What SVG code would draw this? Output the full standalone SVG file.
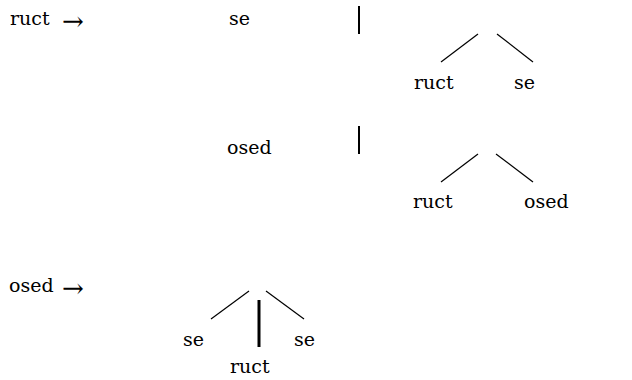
<svg xmlns="http://www.w3.org/2000/svg" width="632" height="380" viewBox="0 0 632 380">
  <style>
    .t { font-family: "DejaVu Serif", "Liberation Serif", serif; font-size: 19px; fill: #000; }
    .arr { font-size: 26px; }
    .edge { stroke: #000; stroke-width: 1.2; fill: none; stroke-linecap: butt; }
    .bar { stroke: #000; stroke-width: 2; fill: none; }
    .bar-thick { stroke: #000; stroke-width: 3; fill: none; }
  </style>
  <rect width="632" height="380" fill="#fff"/>

  <!-- rule 1 -->
  <g id="rule1-head"><text class="t" x="10" y="25">ruct <tspan class="arr" x="62" dy="5">→</tspan></text></g>
  <g id="rule1-alt1"><text class="t" x="229" y="25">se</text></g>
  <g id="rule1-tree1-left"><text class="t" x="414" y="89">ruct</text></g>
  <g id="rule1-tree1-right"><text class="t" x="514" y="89">se</text></g>
  <g id="rule1-alt2"><text class="t" x="227" y="154">osed</text></g>
  <g id="rule1-tree2-left"><text class="t" x="413" y="208">ruct</text></g>
  <g id="rule1-tree2-right"><text class="t" x="524" y="208">osed</text></g>

  <!-- rule 2 -->
  <g id="rule2-head"><text class="t" x="9" y="292">osed <tspan class="arr" x="62" dy="5">→</tspan></text></g>
  <g id="rule2-left"><text class="t" x="183" y="346">se</text></g>
  <g id="rule2-right"><text class="t" x="294" y="346">se</text></g>
  <g id="rule2-mid"><text class="t" x="230" y="373">ruct</text></g>

  <g id="connectors">
    <line class="bar" x1="359" y1="6" x2="359" y2="34"/>
    <line class="edge" x1="441" y1="62" x2="478" y2="34"/>
    <line class="edge" x1="497" y1="34" x2="533" y2="62"/>

    <line class="bar" x1="359" y1="126" x2="359" y2="154"/>
    <line class="edge" x1="441" y1="182" x2="478" y2="154"/>
    <line class="edge" x1="496" y1="154" x2="533" y2="182"/>

    <line class="edge" x1="211" y1="319" x2="249" y2="291"/>
    <line class="edge" x1="266" y1="291" x2="304" y2="319"/>
    <line class="bar-thick" x1="259" y1="300" x2="259" y2="347"/>
  </g>
</svg>
